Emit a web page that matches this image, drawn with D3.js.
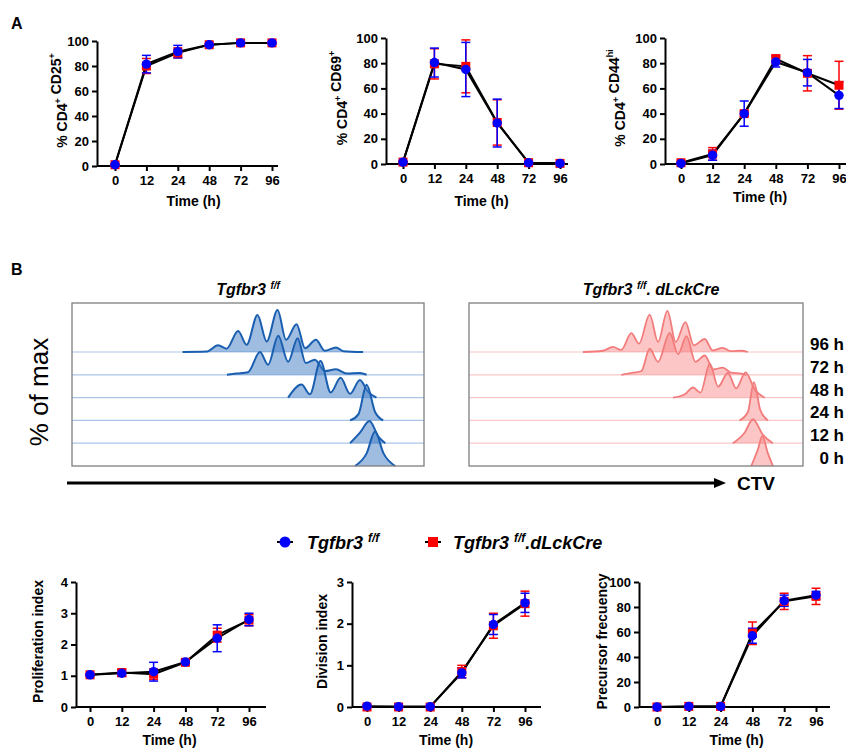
<!DOCTYPE html>
<meta charset="utf-8">
<style>
  body { margin: 0; background: #fff; }
  svg { font-family: "Liberation Sans", Arial, sans-serif; }
  .axis text { font: bold 13px "Liberation Sans", Arial, sans-serif; fill: #000; }
  .axis path, .axis line { stroke: #000; stroke-width: 2px; }
  .ylab, .xlab { font-weight: bold; font-size: 14px; }
  .lbl { font-weight: bold; }
</style>
<svg width="846" height="749"></svg>
<script src="https://d3js.org/d3.v7.min.js"></script>
<script>
  var times = ["0", "12", "24", "48", "72", "96"];

  // panel A
  var cd25FF = [1, 81.5, 91.5, 97, 98.5, 98.5];
  var cd25FFErr = [0.5, 7, 5, 1, 0.5, 0.5];
  var cd25Cre = [1, 80, 90.5, 97, 98.5, 98.5];
  var cd25CreErr = [0.5, 6, 4, 1, 0.5, 0.5];

  var cd69FF = [1.5, 80.5, 75, 32.5, 1, 0.5];
  var cd69FFErr = [0.5, 11.5, 21.5, 19, 0.5, 0.5];
  var cd69Cre = [1.5, 79.5, 77.5, 33, 1, 0.5];
  var cd69CreErr = [0.5, 12, 21, 18, 0.5, 0.5];

  var cd44FF = [0.5, 7, 40, 81, 72.5, 54.5];
  var cd44FFErr = [0.5, 4, 10, 4, 10.5, 10.5];
  var cd44Cre = [1, 8, 40, 83.5, 72, 62.5];
  var cd44CreErr = [1, 5, 2, 3, 14, 19];

  // panel B bottom
  var prolFF = [1.03, 1.08, 1.13, 1.44, 2.2, 2.8];
  var prolFFErr = [0.03, 0.1, 0.3, 0.06, 0.43, 0.2];
  var prolCre = [1.03, 1.1, 1.05, 1.43, 2.3, 2.78];
  var prolCreErr = [0.04, 0.12, 0.17, 0.07, 0.22, 0.18];

  var divFF = [0.02, 0.01, 0.01, 0.82, 1.98, 2.5];
  var divFFErr = [0.01, 0.01, 0.01, 0.12, 0.24, 0.23];
  var divCre = [0, 0, 0, 0.85, 1.95, 2.48];
  var divCreErr = [0.02, 0.02, 0.02, 0.15, 0.3, 0.3];

  var precFF = [0, 0.5, 0.5, 57, 85, 89.5];
  var precFFErr = [0.3, 0.5, 0.5, 6, 4.5, 3];
  var precCre = [0, 0.5, 0.5, 59, 84.5, 88.5];
  var precCreErr = [0.3, 0.5, 0.5, 9, 6.5, 6.5];

  // CTV histograms: [CTV (% of axis), % of max]
  var rowLabels = ["0 h", "12 h", "24 h", "48 h", "72 h", "96 h"];

  var ff0 = [[80.4, 0], [83.7, 30], [86.1, 82], [88.5, 30], [91.8, 0]];
  var ff12 = [[79, 0], [81.8, 25], [84.5, 53], [87.1, 15], [89, 0]];
  var ff24 = [[79, 0], [81.4, 15], [83.7, 85], [86.1, 20], [88.4, 0]];
  var ff48 = [[61.4, 0], [65.2, 31], [67.6, 8], [70.6, 87], [73.5, 12], [76.3, 47],
    [79, 9], [81.8, 42], [84, 15], [86.5, 0]];
  var ff72 = [[44, 0], [46.7, 3], [50, 6], [53.4, 54], [55.7, 24], [58.6, 93], [61.4, 31],
    [64.1, 87], [66.4, 28], [69, 36], [71.8, 9], [75, 13], [78, 3], [81.8, 4], [83.7, 0]];
  var ff96 = [[31.4, 0], [38.2, 1], [41.5, 16], [43.9, 8], [47.2, 50], [49.6, 17], [52.7, 88],
    [55.3, 25], [58.4, 100], [60.8, 29], [63.8, 66], [66.2, 9], [69.3, 29], [71.8, 3],
    [75, 11], [77.1, 2], [82.7, 0]];

  var cre0 = [[84.5, 0], [86.5, 40], [87.8, 71], [89.5, 30], [91, 0]];
  var cre12 = [[79, 0], [82.5, 25], [85, 57], [88, 20], [91, 0]];
  var cre24 = [[81, 0], [83.5, 20], [85.3, 91], [87.2, 25], [89.5, 0]];
  var cre48 = [[61.1, 0], [64.6, 8], [67.1, 24], [69.3, 12], [72.1, 81], [74.6, 26],
    [77.5, 59], [80, 22], [82.8, 60], [85.5, 20], [88.5, 0]];
  var cre72 = [[45.6, 0], [49.1, 5], [51.6, 9], [54.1, 62], [56.6, 31], [60.1, 100],
    [62.6, 49], [65.1, 92], [67.8, 31], [70.6, 46], [73.1, 13], [76, 17], [78.5, 5],
    [81.5, 3], [83, 0]];
  var cre96 = [[34.1, 0], [40.1, 3], [43.1, 12], [45.6, 5], [48.6, 45], [50.9, 20],
    [54.1, 89], [56.6, 24], [59.4, 98], [61.9, 24], [64.8, 71], [67.3, 16], [70.6, 31],
    [72.9, 4], [76, 10], [78.4, 2], [81.5, 3], [83.5, 0]];

  var ffRows = [ff0, ff12, ff24, ff48, ff72, ff96];
  var creRows = [cre0, cre12, cre24, cre48, cre72, cre96];

  var svg = d3.select("svg");

  function lineChart(o) {
    var x = d3.scalePoint().domain(times).range([o.x0, o.x1]);
    var y = d3.scaleLinear().domain([0, o.max]).range([o.bottom, o.top]);
    var g = svg.append("g");

    g.append("g").attr("class", "axis")
      .attr("transform", "translate(" + o.ax + ",0)")
      .call(d3.axisLeft(y).tickValues(o.ticks).tickFormat(d3.format("d"))
        .tickSize(5).tickSizeOuter(0).tickPadding(3));

    var xa = g.append("g").attr("class", "axis")
      .attr("transform", "translate(0," + o.bottom + ")")
      .call(d3.axisBottom(x).tickSize(5).tickSizeOuter(0).tickPadding(5));
    xa.select(".domain").attr("d", "M" + o.ax + ",0H" + o.end);

    var line = d3.line().x(function (d, i) { return x(times[i]); }).y(function (d) { return y(d); });
    [o.cre, o.ff].forEach(function (s) {
      g.append("path").attr("d", line(s)).attr("fill", "none")
        .attr("stroke", "#000").attr("stroke-width", 2);
    });

    function errBars(vals, errs, col) {
      var eb = g.append("g").attr("stroke", col).attr("stroke-width", 1.5);
      vals.forEach(function (v, i) {
        var cx = x(times[i]), y1 = y(v + errs[i]), y2 = y(Math.max(0, v - errs[i]));
        eb.append("line").attr("x1", cx).attr("x2", cx).attr("y1", y1).attr("y2", y2);
        eb.append("line").attr("x1", cx - 4.5).attr("x2", cx + 4.5).attr("y1", y1).attr("y2", y1);
        eb.append("line").attr("x1", cx - 4.5).attr("x2", cx + 4.5).attr("y1", y2).attr("y2", y2);
      });
    }
    errBars(o.cre, o.creErr, "#ff0000");
    errBars(o.ff, o.ffErr, "#0000ff");

    g.selectAll(".sq").data(o.cre).enter().append("rect")
      .attr("x", function (d, i) { return x(times[i]) - 4.5; })
      .attr("y", function (d) { return y(d) - 4.5; })
      .attr("width", 9).attr("height", 9).attr("fill", "#ff0000");
    g.selectAll(".ci").data(o.ff).enter().append("circle")
      .attr("cx", function (d, i) { return x(times[i]); })
      .attr("cy", function (d) { return y(d); })
      .attr("r", 4.7).attr("fill", "#0000ff");

    g.append("text").attr("class", "xlab")
      .attr("x", (o.x0 + o.x1) / 2).attr("y", o.bottom + o.tdy)
      .attr("text-anchor", "middle").text("Time (h)");

    var yl = g.append("text").attr("class", "ylab")
      .attr("transform", "translate(" + (o.ax - o.ylOff + 5) + "," + ((o.top + o.bottom) / 2 - 3) + ") rotate(-90)")
      .attr("text-anchor", "middle");
    o.ylab.forEach(function (p) {
      if (p[1]) {
        yl.append("tspan").attr("dy", -6).attr("font-size", 9).text(p[0]);
        yl.append("tspan").attr("dy", 6).text("");
      } else {
        yl.append("tspan").text(p[0]);
      }
    });
  }

  var pctTicks = [0, 20, 40, 60, 80, 100];

  lineChart({ ax: 97, x0: 115, x1: 272, end: 278, top: 41, bottom: 166, max: 100, ticks: pctTicks,
    ff: cd25FF, ffErr: cd25FFErr, cre: cd25Cre, creErr: cd25CreErr, ylOff: 35, tdy: 40,
    ylab: [["% CD4"], ["+", 1], [" CD25"], ["+", 1]] });
  lineChart({ ax: 386, x0: 403, x1: 560, end: 568, top: 38, bottom: 164, max: 100, ticks: pctTicks,
    ff: cd69FF, ffErr: cd69FFErr, cre: cd69Cre, creErr: cd69CreErr, ylOff: 44, tdy: 42,
    ylab: [["% CD4"], ["+", 1], [" CD69"], ["+", 1]] });
  lineChart({ ax: 665, x0: 681, x1: 839, end: 846, top: 38, bottom: 164, max: 100, ticks: pctTicks,
    ff: cd44FF, ffErr: cd44FFErr, cre: cd44Cre, creErr: cd44CreErr, ylOff: 45, tdy: 38,
    ylab: [["% CD4"], ["+", 1], [" CD44"], ["hi", 1]] });

  lineChart({ ax: 76, x0: 90, x1: 249, end: 266, top: 582, bottom: 707, max: 4, ticks: [0, 1, 2, 3, 4],
    ff: prolFF, ffErr: prolFFErr, cre: prolCre, creErr: prolCreErr, ylOff: 38, tdy: 38,
    ylab: [["Proliferation index"]] });
  lineChart({ ax: 352, x0: 367, x1: 525, end: 541, top: 582, bottom: 707, max: 3, ticks: [0, 1, 2, 3],
    ff: divFF, ffErr: divFFErr, cre: divCre, creErr: divCreErr, ylOff: 30, tdy: 38,
    ylab: [["Division index"]] });
  lineChart({ ax: 639, x0: 657, x1: 816, end: 830, top: 582, bottom: 707, max: 100, ticks: pctTicks,
    ff: precFF, ffErr: precFFErr, cre: precCre, creErr: precCreErr, ylOff: 37, tdy: 38,
    ylab: [["Precursor frecuency"]] });

  // CTV histogram panels
  function histPanel(o) {
    var x = d3.scaleLinear().domain([0, 100]).range([o.left, o.right]);
    var row = d3.scalePoint().domain(rowLabels).range([o.bottom, o.bottom - 5 * 22.8]);
    var h = d3.scaleLinear().domain([0, 100]).range([0, 42]);
    var g = svg.append("g");

    g.selectAll(".base").data(rowLabels.slice(1)).enter().append("line")
      .attr("x1", o.left).attr("x2", o.right)
      .attr("y1", function (d) { return row(d); }).attr("y2", function (d) { return row(d); })
      .attr("stroke", o.baseCol).attr("stroke-width", 1.2);

    for (var i = o.rows.length - 1; i >= 0; i--) {
      var b = row(rowLabels[i]);
      var area = d3.area().curve(d3.curveMonotoneX)
        .x(function (d) { return x(d[0]); })
        .y0(b).y1(function (d) { return b - h(d[1]); });
      var ln = d3.line().curve(d3.curveMonotoneX)
        .x(function (d) { return x(d[0]); })
        .y(function (d) { return b - h(d[1]); });
      g.append("path").attr("d", area(o.rows[i])).attr("fill", o.fill).attr("fill-opacity", o.op);
      g.append("path").attr("d", ln(o.rows[i])).attr("fill", "none")
        .attr("stroke", o.stroke).attr("stroke-width", o.sw);
    }

    g.append("rect").attr("x", o.left).attr("y", o.top)
      .attr("width", o.right - o.left).attr("height", o.bottom - o.top)
      .attr("fill", "none").attr("stroke", "#7f7f7f").attr("stroke-width", 1.3);

    var t = g.append("text").attr("x", (o.left + o.right) / 2 + o.tdx).attr("y", 295)
      .attr("text-anchor", "middle").attr("font-weight", "bold").attr("font-style", "italic")
      .attr("font-size", 16);
    t.append("tspan").text("Tgfbr3 ");
    t.append("tspan").attr("dy", -6).attr("font-size", 10).text("f/f");
    if (o.cre) {
      t.append("tspan").attr("dy", 6).text(". dLckCre");
    }
    return row;
  }

  histPanel({ left: 72, right: 424, top: 303, bottom: 466, rows: ffRows,
    fill: "#3f7cc4", op: 0.5, stroke: "#1a5eb0", sw: 2, baseCol: "#a9c6ea", tdx: 0 });
  var rowR = histPanel({ left: 469, right: 803, top: 303, bottom: 466, rows: creRows,
    fill: "#f87878", op: 0.42, stroke: "#f27c7c", sw: 1.8, baseCol: "#f8c8c8", tdx: 15, cre: true });

  svg.selectAll(".rowlab").data(rowLabels).enter().append("text")
    .attr("class", "lbl").attr("x", 844).attr("y", function (d) { return rowR(d) - 2; })
    .attr("text-anchor", "end").attr("font-size", 17).text(function (d) { return d; });

  svg.append("text").attr("transform", "translate(48,392) rotate(-90)")
    .attr("text-anchor", "middle").attr("font-size", 26).text("% of max");

  // CTV arrow
  svg.append("line").attr("x1", 67).attr("x2", 716).attr("y1", 483).attr("y2", 483)
    .attr("stroke", "#000").attr("stroke-width", 3);
  svg.append("path").attr("d", "M714,478L726,483L714,488Z").attr("fill", "#000");
  svg.append("text").attr("class", "lbl").attr("x", 737).attr("y", 490)
    .attr("font-size", 19).text("CTV");

  // panel letters
  svg.append("text").attr("class", "lbl").attr("x", 11).attr("y", 29).attr("font-size", 16).text("A");
  svg.append("text").attr("class", "lbl").attr("x", 11).attr("y", 275).attr("font-size", 16).text("B");

  // legend
  var leg = svg.append("g");
  leg.append("line").attr("x1", 277).attr("x2", 293).attr("y1", 542).attr("y2", 542)
    .attr("stroke", "#000").attr("stroke-width", 2);
  leg.append("circle").attr("cx", 285).attr("cy", 542).attr("r", 5.5).attr("fill", "#0000ff");
  leg.append("line").attr("x1", 425).attr("x2", 441).attr("y1", 542).attr("y2", 542)
    .attr("stroke", "#000").attr("stroke-width", 2);
  leg.append("rect").attr("x", 428).attr("y", 537).attr("width", 10).attr("height", 10).attr("fill", "#ff0000");
  var l1 = leg.append("text").attr("x", 307).attr("y", 549).attr("font-weight", "bold")
    .attr("font-style", "italic").attr("font-size", 18);
  l1.append("tspan").text("Tgfbr3 ");
  l1.append("tspan").attr("dy", -7).attr("font-size", 12).text("f/f");
  var l2 = leg.append("text").attr("x", 453).attr("y", 549).attr("font-weight", "bold")
    .attr("font-style", "italic").attr("font-size", 18);
  l2.append("tspan").text("Tgfbr3 ");
  l2.append("tspan").attr("dy", -7).attr("font-size", 12).text("f/f");
  l2.append("tspan").attr("dy", 7).text(".dLckCre");
</script>
